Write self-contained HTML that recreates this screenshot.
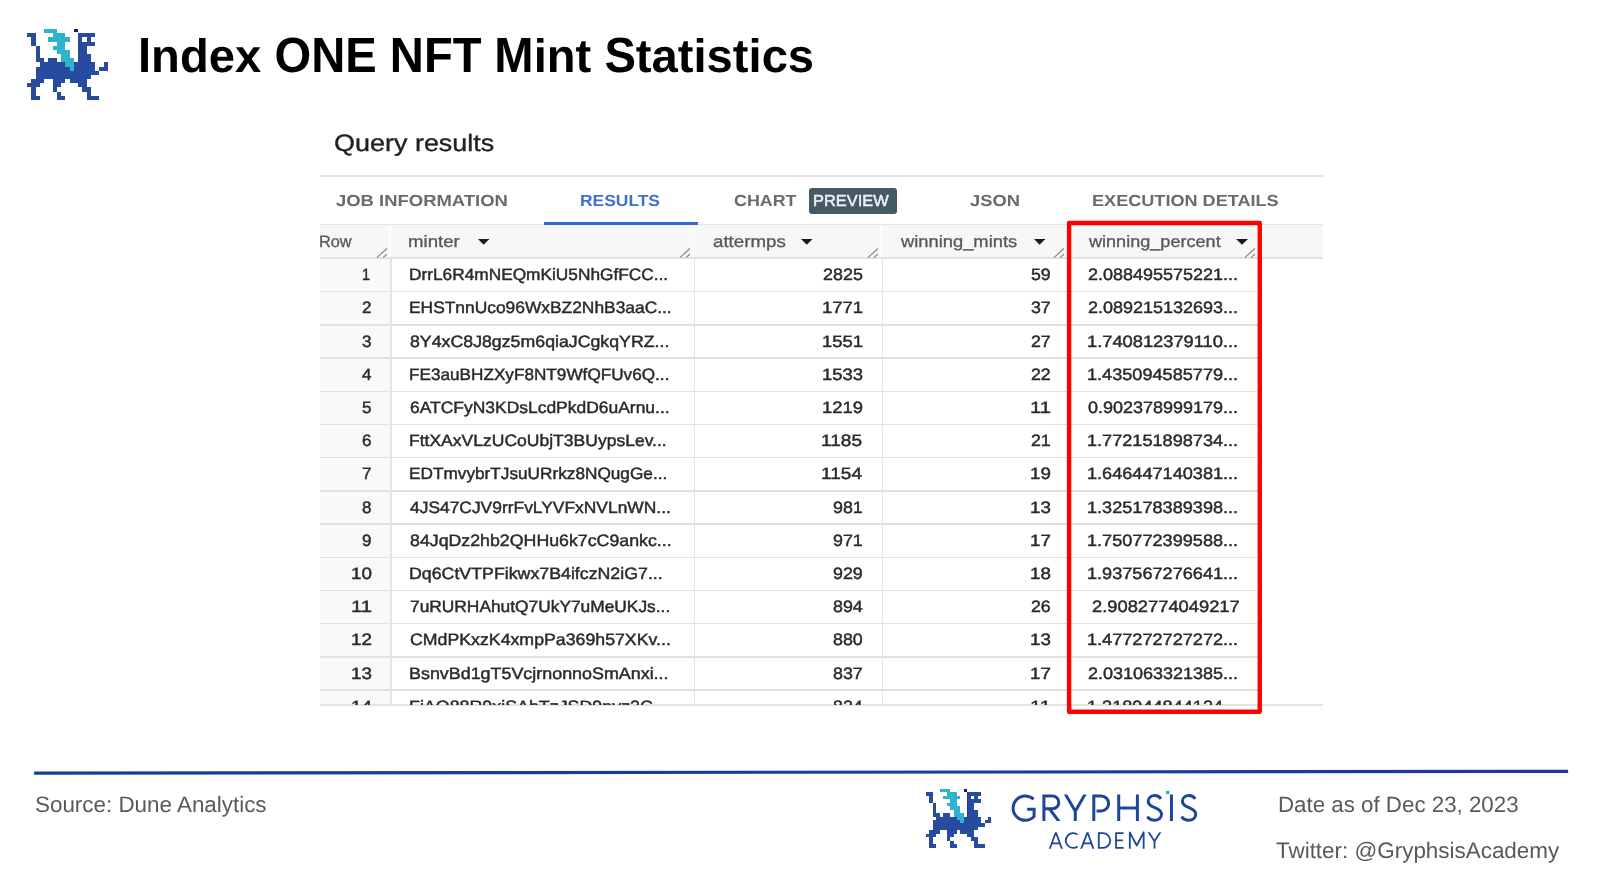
<!DOCTYPE html>
<html><head><meta charset="utf-8"><title>Index ONE NFT Mint Statistics</title>
<style>
html,body{margin:0;padding:0;background:#fff;}
body{width:1600px;height:896px;position:relative;overflow:hidden;font-family:"Liberation Sans", sans-serif;}
.abs{position:absolute;display:block;}
.t{position:absolute;white-space:nowrap;line-height:1;transform-origin:0 0;display:block;text-rendering:geometricPrecision;}
#shot{position:absolute;left:0;top:0;width:1600px;height:896px;filter:blur(0.6px);}
#clip{position:absolute;left:0;top:0;width:1600px;height:704.6px;overflow:hidden;}
#red{position:absolute;left:1067px;top:221px;width:186.6px;height:484.2px;border:4.3px solid #ff0000;border-radius:2.5px;}
</style></head><body>
<svg class="abs" style="left:27px;top:28.75px" width="81" height="71" viewBox="0 0 19 17" preserveAspectRatio="none" shape-rendering="crispEdges"><path d="M0 1h2v1h-2zM12 1h4v1h-4zM1 2h1v1h-1zM12 2h1v1h-1zM14 2h1v1h-1zM1 3h1v1h-1zM12 3h4v1h-4zM2 4h1v1h-1zM12 4h2v1h-2zM2 5h1v1h-1zM12 5h2v1h-2zM2 6h1v1h-1zM12 6h3v1h-3zM2 7h2v1h-2zM5 7h2v1h-2zM12 7h3v1h-3zM3 8h6v1h-6zM11 8h5v1h-5zM18 8h1v1h-1zM2 9h8v1h-8zM11 9h5v1h-5zM17 9h2v1h-2zM2 10h15v1h-15zM2 11h13v1h-13zM1 12h3v1h-3zM6 12h3v1h-3zM10 12h4v1h-4zM0 13h3v1h-3zM6 13h2v1h-2zM12 13h2v1h-2zM1 14h1v1h-1zM6 14h1v1h-1zM13 14h2v1h-2zM1 15h1v1h-1zM7 15h1v1h-1zM14 15h1v1h-1zM1 16h2v1h-2zM7 16h2v1h-2zM14 16h3v1h-3z" fill="#274b9f"/><path d="M4 0h3v1h-3zM6 1h3v1h-3zM5 2h5v1h-5zM7 3h2v1h-2zM6 4h3v1h-3zM7 5h3v1h-3zM8 6h2v1h-2zM8 7h3v1h-3zM9 8h2v1h-2zM10 9h1v1h-1z" fill="#2fb4d0"/><rect x="11" y="0.05" width="1" height="0.75" fill="#0b1f86"/><rect x="11.95" y="0.8" width="0.12" height="7.3" fill="#1a2f8f" opacity="0.55"/></svg>
<span id="title" class="t" style="left:137.59px;top:30.90px;font-size:47px;font-weight:bold;color:#000;transform:scaleX(1.0034);"><span style="display:inline-block;font-size:49.4px;transform:scaleX(0.9514);transform-origin:0 0;margin-right:-0.67px">I</span>ndex <span style="display:inline-block;font-size:49.4px;transform:scaleX(0.9514);transform-origin:0 0;margin-right:-5.20px">ONE</span> <span style="display:inline-block;font-size:49.4px;transform:scaleX(0.9514);transform-origin:0 0;margin-right:-4.66px">NFT</span> <span style="display:inline-block;font-size:49.4px;transform:scaleX(0.9514);transform-origin:0 0;margin-right:-2.00px">M</span>int <span style="display:inline-block;font-size:49.4px;transform:scaleX(0.9514);transform-origin:0 0;margin-right:-1.60px">S</span>tatistics</span>
<span class="t" style="left:34.80px;top:793.92px;font-size:22.3px;color:#595959;transform:scaleX(1.0045);">Source: Dune Analytics</span><span class="t" style="left:1277.99px;top:793.81px;font-size:22.2px;color:#595959;transform:scaleX(1.0053);">Date as of Dec 23, 2023</span><span class="t" style="left:1275.60px;top:839.74px;font-size:22.4px;color:#595959;transform:scaleX(1.0015);">Twitter: @GryphsisAcademy</span>
<div id="shot">
<div class="abs" style="left:319.50px;top:258.40px;width:71.75px;height:446.60px;background:#f9f9f9;"></div><div class="abs" style="left:319.50px;top:224.50px;width:1003.25px;height:34.00px;background:#f7f7f7;"></div><div class="abs" style="left:319.50px;top:175.10px;width:1003.25px;height:1.80px;background:#e3e3e3;"></div><div class="abs" style="left:319.50px;top:224.20px;width:1003.25px;height:1.00px;background:#e4e4e4;"></div><div class="abs" style="left:319.50px;top:257.45px;width:1003.25px;height:1.80px;background:#e2e2e2;"></div><div class="abs" style="left:543.75px;top:221.90px;width:154.50px;height:3.00px;background:#3367d6;"></div><div class="abs" style="left:319.50px;top:290.90px;width:938.00px;height:1.60px;background:#e1e1e1;"></div><div class="abs" style="left:319.50px;top:324.10px;width:938.00px;height:1.60px;background:#e1e1e1;"></div><div class="abs" style="left:319.50px;top:357.30px;width:938.00px;height:1.60px;background:#e1e1e1;"></div><div class="abs" style="left:319.50px;top:390.50px;width:938.00px;height:1.60px;background:#e1e1e1;"></div><div class="abs" style="left:319.50px;top:423.70px;width:938.00px;height:1.60px;background:#e1e1e1;"></div><div class="abs" style="left:319.50px;top:456.90px;width:938.00px;height:1.60px;background:#e1e1e1;"></div><div class="abs" style="left:319.50px;top:490.10px;width:938.00px;height:1.60px;background:#e1e1e1;"></div><div class="abs" style="left:319.50px;top:523.30px;width:938.00px;height:1.60px;background:#e1e1e1;"></div><div class="abs" style="left:319.50px;top:556.50px;width:938.00px;height:1.60px;background:#e1e1e1;"></div><div class="abs" style="left:319.50px;top:589.70px;width:938.00px;height:1.60px;background:#e1e1e1;"></div><div class="abs" style="left:319.50px;top:622.90px;width:938.00px;height:1.60px;background:#e1e1e1;"></div><div class="abs" style="left:319.50px;top:656.10px;width:938.00px;height:1.60px;background:#e1e1e1;"></div><div class="abs" style="left:319.50px;top:689.30px;width:938.00px;height:1.60px;background:#e1e1e1;"></div><div class="abs" style="left:390.45px;top:258.40px;width:1.60px;height:446.60px;background:#e5e5e5;"></div><div class="abs" style="left:693.60px;top:258.40px;width:1.60px;height:446.60px;background:#e5e5e5;"></div><div class="abs" style="left:881.50px;top:258.40px;width:1.60px;height:446.60px;background:#e5e5e5;"></div><div class="abs" style="left:1067.20px;top:258.40px;width:1.60px;height:446.60px;background:#e5e5e5;"></div><div class="abs" style="left:1258.20px;top:258.40px;width:1.60px;height:446.60px;background:#e5e5e5;"></div><div class="abs" style="left:389.35px;top:226.00px;width:1.40px;height:31.00px;background:#fdfdfd;"></div><div class="abs" style="left:692.50px;top:226.00px;width:1.40px;height:31.00px;background:#fdfdfd;"></div><div class="abs" style="left:880.40px;top:226.00px;width:1.40px;height:31.00px;background:#fdfdfd;"></div><div class="abs" style="left:1066.10px;top:226.00px;width:1.40px;height:31.00px;background:#fdfdfd;"></div><div class="abs" style="left:1257.10px;top:226.00px;width:1.40px;height:31.00px;background:#fdfdfd;"></div><div class="abs" style="left:319.50px;top:704.00px;width:1003.25px;height:1.80px;background:#e3e3e3;"></div><div class="abs" style="left:808.75px;top:187.50px;width:88.00px;height:26.25px;background:#455a64;border-radius:3px;"></div>
<svg class="abs" style="left:477.5px;top:238.9px" width="11.25" height="5.699999999999989" viewBox="0 0 10 5"  preserveAspectRatio="none"><path d="M0 0h10L5 5z" fill="#1b1b1b"/></svg><svg class="abs" style="left:801.3px;top:238.9px" width="11.5" height="5.699999999999989" viewBox="0 0 10 5"  preserveAspectRatio="none"><path d="M0 0h10L5 5z" fill="#1b1b1b"/></svg><svg class="abs" style="left:1033.75px;top:238.9px" width="11.25" height="5.699999999999989" viewBox="0 0 10 5"  preserveAspectRatio="none"><path d="M0 0h10L5 5z" fill="#1b1b1b"/></svg><svg class="abs" style="left:1236px;top:238.9px" width="12" height="5.699999999999989" viewBox="0 0 10 5"  preserveAspectRatio="none"><path d="M0 0h10L5 5z" fill="#1b1b1b"/></svg><svg class="abs" style="left:375.25px;top:246px" width="16" height="13" viewBox="-16 246 16 13"><path d="M-14.1 257.6L-4.1 248.5M-8.1 257.6L-4.1 254.3" stroke="#858585" stroke-width="1.15" fill="none"/></svg><svg class="abs" style="left:678.40px;top:246px" width="16" height="13" viewBox="-16 246 16 13"><path d="M-14.1 257.6L-4.1 248.5M-8.1 257.6L-4.1 254.3" stroke="#858585" stroke-width="1.15" fill="none"/></svg><svg class="abs" style="left:866.30px;top:246px" width="16" height="13" viewBox="-16 246 16 13"><path d="M-14.1 257.6L-4.1 248.5M-8.1 257.6L-4.1 254.3" stroke="#858585" stroke-width="1.15" fill="none"/></svg><svg class="abs" style="left:1052.00px;top:246px" width="16" height="13" viewBox="-16 246 16 13"><path d="M-14.1 257.6L-4.1 248.5M-8.1 257.6L-4.1 254.3" stroke="#858585" stroke-width="1.15" fill="none"/></svg><svg class="abs" style="left:1243.00px;top:246px" width="16" height="13" viewBox="-16 246 16 13"><path d="M-14.1 257.6L-4.1 248.5M-8.1 257.6L-4.1 254.3" stroke="#858585" stroke-width="1.15" fill="none"/></svg>
<span class="t" style="left:334.36px;top:133.17px;font-size:23.6px;color:#202124;transform:scaleX(1.1426);-webkit-text-stroke:0.35px #202124;">Query results</span><span class="t" style="left:336.25px;top:194.06px;font-size:16px;color:#686b70;transform:scaleX(1.1534);font-weight:bold;">JOB INFORMATION</span><span class="t" style="left:580.16px;top:194.06px;font-size:16px;color:#3d6fd6;transform:scaleX(1.0884);font-weight:bold;">RESULTS</span><span class="t" style="left:734.25px;top:194.06px;font-size:16px;color:#686b70;transform:scaleX(1.1162);font-weight:bold;">CHART</span><span class="t" style="left:969.50px;top:194.06px;font-size:16px;color:#686b70;transform:scaleX(1.1449);font-weight:bold;">JSON</span><span class="t" style="left:1091.87px;top:194.06px;font-size:16px;color:#686b70;transform:scaleX(1.1310);font-weight:bold;">EXECUTION DETAILS</span><span class="t" style="left:318.51px;top:233.83px;font-size:16.5px;color:#585858;transform:scaleX(0.9893);-webkit-text-stroke:0.32px #585858;">Row</span><span class="t" style="left:408.37px;top:233.83px;font-size:16.5px;color:#585858;transform:scaleX(1.1302);-webkit-text-stroke:0.32px #585858;">minter</span><span class="t" style="left:712.50px;top:233.83px;font-size:16.5px;color:#585858;transform:scaleX(1.1339);-webkit-text-stroke:0.32px #585858;">attermps</span><span class="t" style="left:901.11px;top:233.83px;font-size:16.5px;color:#585858;transform:scaleX(1.1111);-webkit-text-stroke:0.32px #585858;">winning_mints</span><span class="t" style="left:1088.90px;top:233.83px;font-size:16.5px;color:#585858;transform:scaleX(1.0956);-webkit-text-stroke:0.32px #585858;">winning_percent</span><span class="t" style="left:362.32px;top:267.23px;font-size:16.5px;color:#2a2a2a;transform:scaleX(0.8750);-webkit-text-stroke:0.45px #2a2a2a;">1</span><span class="t" style="left:408.95px;top:267.23px;font-size:16.5px;color:#2a2a2a;transform:scaleX(1.0470);-webkit-text-stroke:0.45px #2a2a2a;">DrrL6R4mNEQmKiU5NhGfFCC...</span><span class="t" style="left:822.62px;top:267.23px;font-size:16.5px;color:#2a2a2a;transform:scaleX(1.0862);-webkit-text-stroke:0.45px #2a2a2a;">2825</span><span class="t" style="left:1030.76px;top:267.23px;font-size:16.5px;color:#2a2a2a;transform:scaleX(1.0750);-webkit-text-stroke:0.45px #2a2a2a;">59</span><span class="t" style="left:1088.40px;top:267.23px;font-size:16.5px;color:#2a2a2a;transform:scaleX(1.0901);-webkit-text-stroke:0.45px #2a2a2a;">2.088495575221...</span><span class="t" style="left:362.20px;top:300.43px;font-size:16.5px;color:#2a2a2a;transform:scaleX(1.0333);-webkit-text-stroke:0.45px #2a2a2a;">2</span><span class="t" style="left:408.95px;top:300.43px;font-size:16.5px;color:#2a2a2a;transform:scaleX(1.0531);-webkit-text-stroke:0.45px #2a2a2a;">EHSTnnUco96WxBZ2NhB3aaC...</span><span class="t" style="left:821.50px;top:300.43px;font-size:16.5px;color:#2a2a2a;transform:scaleX(1.1168);-webkit-text-stroke:0.45px #2a2a2a;">1771</span><span class="t" style="left:1030.76px;top:300.43px;font-size:16.5px;color:#2a2a2a;transform:scaleX(1.0750);-webkit-text-stroke:0.45px #2a2a2a;">37</span><span class="t" style="left:1088.40px;top:300.43px;font-size:16.5px;color:#2a2a2a;transform:scaleX(1.0901);-webkit-text-stroke:0.45px #2a2a2a;">2.089215132693...</span><span class="t" style="left:362.20px;top:333.63px;font-size:16.5px;color:#2a2a2a;transform:scaleX(1.0333);-webkit-text-stroke:0.45px #2a2a2a;">3</span><span class="t" style="left:410.00px;top:333.63px;font-size:16.5px;color:#2a2a2a;transform:scaleX(1.0754);-webkit-text-stroke:0.45px #2a2a2a;">8Y4xC8J8gz5m6qiaJCgkqYRZ...</span><span class="t" style="left:821.50px;top:333.63px;font-size:16.5px;color:#2a2a2a;transform:scaleX(1.1168);-webkit-text-stroke:0.45px #2a2a2a;">1551</span><span class="t" style="left:1030.76px;top:333.63px;font-size:16.5px;color:#2a2a2a;transform:scaleX(1.0750);-webkit-text-stroke:0.45px #2a2a2a;">27</span><span class="t" style="left:1087.29px;top:333.63px;font-size:16.5px;color:#2a2a2a;transform:scaleX(1.1081);-webkit-text-stroke:0.45px #2a2a2a;">1.740812379110...</span><span class="t" style="left:362.20px;top:366.83px;font-size:16.5px;color:#2a2a2a;transform:scaleX(1.0333);-webkit-text-stroke:0.45px #2a2a2a;">4</span><span class="t" style="left:408.96px;top:366.83px;font-size:16.5px;color:#2a2a2a;transform:scaleX(1.0404);-webkit-text-stroke:0.45px #2a2a2a;">FE3auBHZXyF8NT9WfQFUv6Q...</span><span class="t" style="left:821.50px;top:366.83px;font-size:16.5px;color:#2a2a2a;transform:scaleX(1.1168);-webkit-text-stroke:0.45px #2a2a2a;">1533</span><span class="t" style="left:1030.76px;top:366.83px;font-size:16.5px;color:#2a2a2a;transform:scaleX(1.0750);-webkit-text-stroke:0.45px #2a2a2a;">22</span><span class="t" style="left:1087.30px;top:366.83px;font-size:16.5px;color:#2a2a2a;transform:scaleX(1.0981);-webkit-text-stroke:0.45px #2a2a2a;">1.435094585779...</span><span class="t" style="left:362.20px;top:400.03px;font-size:16.5px;color:#2a2a2a;transform:scaleX(1.0333);-webkit-text-stroke:0.45px #2a2a2a;">5</span><span class="t" style="left:410.00px;top:400.03px;font-size:16.5px;color:#2a2a2a;transform:scaleX(1.0577);-webkit-text-stroke:0.45px #2a2a2a;">6ATCFyN3KDsLcdPkdD6uArnu...</span><span class="t" style="left:821.50px;top:400.03px;font-size:16.5px;color:#2a2a2a;transform:scaleX(1.1168);-webkit-text-stroke:0.45px #2a2a2a;">1219</span><span class="t" style="left:1029.54px;top:400.03px;font-size:16.5px;color:#2a2a2a;transform:scaleX(1.2249);-webkit-text-stroke:0.45px #2a2a2a;">11</span><span class="t" style="left:1088.40px;top:400.03px;font-size:16.5px;color:#2a2a2a;transform:scaleX(1.0901);-webkit-text-stroke:0.45px #2a2a2a;">0.902378999179...</span><span class="t" style="left:362.20px;top:433.23px;font-size:16.5px;color:#2a2a2a;transform:scaleX(1.0333);-webkit-text-stroke:0.45px #2a2a2a;">6</span><span class="t" style="left:408.94px;top:433.23px;font-size:16.5px;color:#2a2a2a;transform:scaleX(1.0618);-webkit-text-stroke:0.45px #2a2a2a;">FttXAxVLzUCoUbjT3BUypsLev...</span><span class="t" style="left:821.46px;top:433.23px;font-size:16.5px;color:#2a2a2a;transform:scaleX(1.1567);-webkit-text-stroke:0.45px #2a2a2a;">1185</span><span class="t" style="left:1030.76px;top:433.23px;font-size:16.5px;color:#2a2a2a;transform:scaleX(1.0750);-webkit-text-stroke:0.45px #2a2a2a;">21</span><span class="t" style="left:1087.30px;top:433.23px;font-size:16.5px;color:#2a2a2a;transform:scaleX(1.0981);-webkit-text-stroke:0.45px #2a2a2a;">1.772151898734...</span><span class="t" style="left:362.20px;top:466.43px;font-size:16.5px;color:#2a2a2a;transform:scaleX(1.0333);-webkit-text-stroke:0.45px #2a2a2a;">7</span><span class="t" style="left:408.96px;top:466.43px;font-size:16.5px;color:#2a2a2a;transform:scaleX(1.0433);-webkit-text-stroke:0.45px #2a2a2a;">EDTmvybrTJsuURrkz8NQugGe...</span><span class="t" style="left:821.46px;top:466.43px;font-size:16.5px;color:#2a2a2a;transform:scaleX(1.1567);-webkit-text-stroke:0.45px #2a2a2a;">1154</span><span class="t" style="left:1029.62px;top:466.43px;font-size:16.5px;color:#2a2a2a;transform:scaleX(1.1376);-webkit-text-stroke:0.45px #2a2a2a;">19</span><span class="t" style="left:1087.30px;top:466.43px;font-size:16.5px;color:#2a2a2a;transform:scaleX(1.0981);-webkit-text-stroke:0.45px #2a2a2a;">1.646447140381...</span><span class="t" style="left:362.20px;top:499.63px;font-size:16.5px;color:#2a2a2a;transform:scaleX(1.0333);-webkit-text-stroke:0.45px #2a2a2a;">8</span><span class="t" style="left:410.00px;top:499.63px;font-size:16.5px;color:#2a2a2a;transform:scaleX(1.0548);-webkit-text-stroke:0.45px #2a2a2a;">4JS47CJV9rrFvLYVFxNVLnWN...</span><span class="t" style="left:832.69px;top:499.63px;font-size:16.5px;color:#2a2a2a;transform:scaleX(1.0825);-webkit-text-stroke:0.45px #2a2a2a;">981</span><span class="t" style="left:1029.62px;top:499.63px;font-size:16.5px;color:#2a2a2a;transform:scaleX(1.1376);-webkit-text-stroke:0.45px #2a2a2a;">13</span><span class="t" style="left:1087.30px;top:499.63px;font-size:16.5px;color:#2a2a2a;transform:scaleX(1.0981);-webkit-text-stroke:0.45px #2a2a2a;">1.325178389398...</span><span class="t" style="left:362.20px;top:532.83px;font-size:16.5px;color:#2a2a2a;transform:scaleX(1.0333);-webkit-text-stroke:0.45px #2a2a2a;">9</span><span class="t" style="left:410.00px;top:532.83px;font-size:16.5px;color:#2a2a2a;transform:scaleX(1.0765);-webkit-text-stroke:0.45px #2a2a2a;">84JqDz2hb2QHHu6k7cC9ankc...</span><span class="t" style="left:832.69px;top:532.83px;font-size:16.5px;color:#2a2a2a;transform:scaleX(1.0825);-webkit-text-stroke:0.45px #2a2a2a;">971</span><span class="t" style="left:1029.62px;top:532.83px;font-size:16.5px;color:#2a2a2a;transform:scaleX(1.1376);-webkit-text-stroke:0.45px #2a2a2a;">17</span><span class="t" style="left:1087.30px;top:532.83px;font-size:16.5px;color:#2a2a2a;transform:scaleX(1.0981);-webkit-text-stroke:0.45px #2a2a2a;">1.750772399588...</span><span class="t" style="left:350.76px;top:566.03px;font-size:16.5px;color:#2a2a2a;transform:scaleX(1.1411);-webkit-text-stroke:0.45px #2a2a2a;">10</span><span class="t" style="left:408.92px;top:566.03px;font-size:16.5px;color:#2a2a2a;transform:scaleX(1.0766);-webkit-text-stroke:0.45px #2a2a2a;">Dq6CtVTPFikwx7B4ifczN2iG7...</span><span class="t" style="left:832.69px;top:566.03px;font-size:16.5px;color:#2a2a2a;transform:scaleX(1.0825);-webkit-text-stroke:0.45px #2a2a2a;">929</span><span class="t" style="left:1029.62px;top:566.03px;font-size:16.5px;color:#2a2a2a;transform:scaleX(1.1376);-webkit-text-stroke:0.45px #2a2a2a;">18</span><span class="t" style="left:1087.30px;top:566.03px;font-size:16.5px;color:#2a2a2a;transform:scaleX(1.0981);-webkit-text-stroke:0.45px #2a2a2a;">1.937567276641...</span><span class="t" style="left:350.67px;top:599.23px;font-size:16.5px;color:#2a2a2a;transform:scaleX(1.2287);-webkit-text-stroke:0.45px #2a2a2a;">11</span><span class="t" style="left:410.00px;top:599.23px;font-size:16.5px;color:#2a2a2a;transform:scaleX(1.0510);-webkit-text-stroke:0.45px #2a2a2a;">7uRURHAhutQ7UkY7uMeUKJs...</span><span class="t" style="left:832.69px;top:599.23px;font-size:16.5px;color:#2a2a2a;transform:scaleX(1.0825);-webkit-text-stroke:0.45px #2a2a2a;">894</span><span class="t" style="left:1030.76px;top:599.23px;font-size:16.5px;color:#2a2a2a;transform:scaleX(1.0750);-webkit-text-stroke:0.45px #2a2a2a;">26</span><span class="t" style="left:1091.50px;top:599.23px;font-size:16.5px;color:#2a2a2a;transform:scaleX(1.1100);-webkit-text-stroke:0.45px #2a2a2a;">2.9082774049217</span><span class="t" style="left:350.76px;top:632.43px;font-size:16.5px;color:#2a2a2a;transform:scaleX(1.1411);-webkit-text-stroke:0.45px #2a2a2a;">12</span><span class="t" style="left:410.00px;top:632.43px;font-size:16.5px;color:#2a2a2a;transform:scaleX(1.0746);-webkit-text-stroke:0.45px #2a2a2a;">CMdPKxzK4xmpPa369h57XKv...</span><span class="t" style="left:832.69px;top:632.43px;font-size:16.5px;color:#2a2a2a;transform:scaleX(1.0825);-webkit-text-stroke:0.45px #2a2a2a;">880</span><span class="t" style="left:1029.62px;top:632.43px;font-size:16.5px;color:#2a2a2a;transform:scaleX(1.1376);-webkit-text-stroke:0.45px #2a2a2a;">13</span><span class="t" style="left:1087.30px;top:632.43px;font-size:16.5px;color:#2a2a2a;transform:scaleX(1.0981);-webkit-text-stroke:0.45px #2a2a2a;">1.477272727272...</span><span class="t" style="left:350.76px;top:665.63px;font-size:16.5px;color:#2a2a2a;transform:scaleX(1.1411);-webkit-text-stroke:0.45px #2a2a2a;">13</span><span class="t" style="left:408.92px;top:665.63px;font-size:16.5px;color:#2a2a2a;transform:scaleX(1.0842);-webkit-text-stroke:0.45px #2a2a2a;">BsnvBd1gT5VcjrnonnoSmAnxi...</span><span class="t" style="left:832.69px;top:665.63px;font-size:16.5px;color:#2a2a2a;transform:scaleX(1.0825);-webkit-text-stroke:0.45px #2a2a2a;">837</span><span class="t" style="left:1029.62px;top:665.63px;font-size:16.5px;color:#2a2a2a;transform:scaleX(1.1376);-webkit-text-stroke:0.45px #2a2a2a;">17</span><span class="t" style="left:1088.40px;top:665.63px;font-size:16.5px;color:#2a2a2a;transform:scaleX(1.0901);-webkit-text-stroke:0.45px #2a2a2a;">2.031063321385...</span>
<span class="t" style="left:813.48px;top:194.06px;font-size:16px;color:#eef2f4;transform:scaleX(1.0246);-webkit-text-stroke:0.5px #eef2f4;">PREVIEW</span>
<div id="clip"><span class="t" style="left:350.76px;top:698.83px;font-size:16.5px;color:#2a2a2a;transform:scaleX(1.1411);-webkit-text-stroke:0.45px #2a2a2a;">14</span><span class="t" style="left:408.92px;top:698.83px;font-size:16.5px;color:#2a2a2a;transform:scaleX(1.0810);-webkit-text-stroke:0.45px #2a2a2a;">FiAQ88R9xiSAhTzJSD9nvz2C...</span><span class="t" style="left:832.69px;top:698.83px;font-size:16.5px;color:#2a2a2a;transform:scaleX(1.0825);-webkit-text-stroke:0.45px #2a2a2a;">824</span><span class="t" style="left:1029.54px;top:698.83px;font-size:16.5px;color:#2a2a2a;transform:scaleX(1.2249);-webkit-text-stroke:0.45px #2a2a2a;">11</span><span class="t" style="left:1087.30px;top:698.83px;font-size:16.5px;color:#2a2a2a;transform:scaleX(1.0981);-webkit-text-stroke:0.45px #2a2a2a;">1.318944844124...</span></div>
</div>
<svg class="abs" style="left:1060px;top:215px" width="210" height="505" viewBox="1060 215 210 505"><rect x="1069.1" y="222.96" width="190.66" height="488.81" fill="none" stroke="#ff0000" stroke-width="4.4" stroke-linejoin="round"/></svg>
<svg class="abs" style="left:0;top:760px" width="1600" height="24" viewBox="0 760 1600 24"><path d="M34.1 773.1L1568.1 771.35" stroke="#123d9b" stroke-width="3.2" fill="none"/></svg>
<svg class="abs" style="left:925.6px;top:789.4px" width="65.4" height="58.6" viewBox="0 0 19 17" preserveAspectRatio="none" shape-rendering="crispEdges"><path d="M0 1h2v1h-2zM12 1h4v1h-4zM1 2h1v1h-1zM12 2h1v1h-1zM14 2h1v1h-1zM1 3h1v1h-1zM12 3h4v1h-4zM2 4h1v1h-1zM12 4h2v1h-2zM2 5h1v1h-1zM12 5h2v1h-2zM2 6h1v1h-1zM12 6h3v1h-3zM2 7h2v1h-2zM5 7h2v1h-2zM12 7h3v1h-3zM3 8h6v1h-6zM11 8h5v1h-5zM18 8h1v1h-1zM2 9h8v1h-8zM11 9h5v1h-5zM17 9h2v1h-2zM2 10h15v1h-15zM2 11h13v1h-13zM1 12h3v1h-3zM6 12h3v1h-3zM10 12h4v1h-4zM0 13h3v1h-3zM6 13h2v1h-2zM12 13h2v1h-2zM1 14h1v1h-1zM6 14h1v1h-1zM13 14h2v1h-2zM1 15h1v1h-1zM7 15h1v1h-1zM14 15h1v1h-1zM1 16h2v1h-2zM7 16h2v1h-2zM14 16h3v1h-3z" fill="#274b9f"/><path d="M4 0h3v1h-3zM6 1h3v1h-3zM5 2h5v1h-5zM7 3h2v1h-2zM6 4h3v1h-3zM7 5h3v1h-3zM8 6h2v1h-2zM8 7h3v1h-3zM9 8h2v1h-2zM10 9h1v1h-1z" fill="#2fb4d0"/><rect x="11" y="0.05" width="1" height="0.75" fill="#0b1f86"/><rect x="11.95" y="0.8" width="0.12" height="7.3" fill="#1a2f8f" opacity="0.55"/></svg>
<svg class="abs" style="left:1000px;top:785px" width="210" height="75" viewBox="1000 785 210 75" fill="none" stroke="#1f449b">
<defs><clipPath id="cg"><rect x="1000" y="794.5" width="210" height="26.5"/></clipPath><clipPath id="ca"><rect x="1000" y="832.3" width="210" height="16.5"/></clipPath></defs>
<g stroke-width="3.0" stroke-linejoin="miter">
<path d="M1033.6 799.2A12.2 12.2 0 1 0 1034.1 816.55V809.2H1027.2"/>
<path d="M1043.9 794.5V821M1043.9 796H1052.4A6.4 6.4 0 0 1 1052.4 808.8H1043.9"/>
<path clip-path="url(#cg)" d="M1049.6 809.2L1060.24 823"/>
<path clip-path="url(#cg)" d="M1064.44 792.5L1075.3 811.2L1086.06 792.5M1075.3 810.6V821"/>
<path d="M1093.8 794.5V821M1093.8 796H1101.15A7.45 7.45 0 0 1 1101.15 810.9H1096.5"/>
<path d="M1118.7 794.5V821M1137.4 794.5V821M1118.7 808H1137.4"/>
<path id="gs" d="M1161.0 798.9C1159.6 796.8 1157.5 795.5 1155.0 795.5C1151.2 795.5 1148.2 797.9 1148.2 801.2C1148.2 804.8 1151.5 806.3 1154.9 807.7C1158.4 809.1 1161.5 810.6 1161.5 814.3C1161.5 817.9 1158.6 820.25 1154.6 820.25C1151.5 820.25 1149.0 818.9 1147.4 816.6"/>
<path d="M1171.45 794.5V821"/>
<use href="#gs" transform="translate(34.2 0)"/>
</g>
<rect x="1166" y="790.85" width="3.4" height="3.2" fill="#22b4cf" stroke="none"/>
<g stroke-width="1.8" stroke-linejoin="round">
<path clip-path="url(#ca)" d="M1049.25 850.3L1055.85 832.3L1062.45 850.3M1052.2 843.3H1059.5"/>
<path d="M1077.6 834.6A7.4 7.4 0 1 0 1077.6 846.5"/>
<path clip-path="url(#ca)" d="M1080.63 850.3L1087.5 832.3L1093.94 850.3M1083.8 843.3H1091"/>
<path d="M1098.8 832.3V848.8M1098.8 833.2H1102.85A7.35 7.35 0 0 1 1102.85 847.9H1098.8"/>
<path d="M1123.7 833.2H1116V847.9H1123.7M1116 840.4H1122.9"/>
<path d="M1129.8 848.8V832.3L1136.75 845.5L1143.65 832.3V848.8"/>
<path clip-path="url(#ca)" d="M1147.85 830.8L1154.5 841.3L1161.15 830.8M1154.5 841V848.8"/>
</g>
</svg>
</body></html>
